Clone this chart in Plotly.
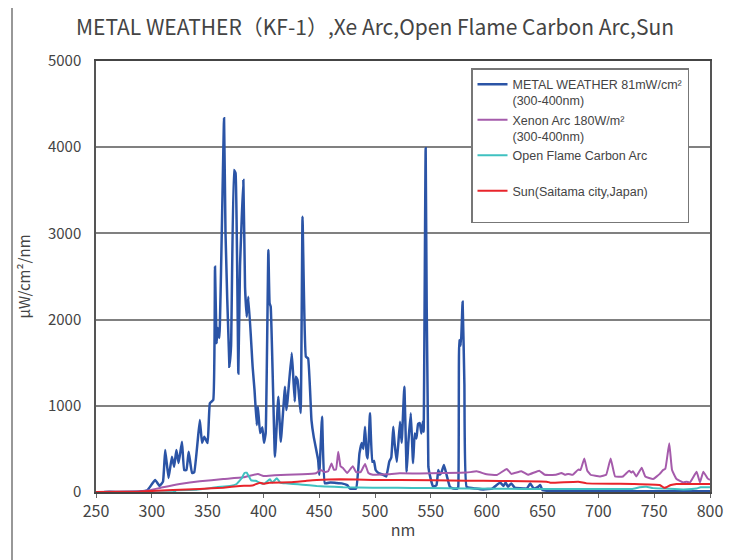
import plotly.graph_objects as go

# ---- data ----
mw_nm = [250, 253, 255, 258, 270, 290, 296, 300, 303, 307, 310, 312, 315, 318, 320, 322, 324, 327, 329, 331,
         333, 336, 338, 343, 345, 347, 350, 352, 355, 356.6, 358, 359, 360.5, 364.7, 366, 369.5, 371, 373.6, 375,
         377.5, 379, 382, 383.5, 385, 386.5, 390.3, 392, 394, 395, 397, 399, 400.5, 402, 404.4, 405.5, 406.5,
         410.3, 413.3, 415.5, 419.3, 420.5, 421.5, 425.3, 426.5, 428, 429, 430.5, 433.3, 435, 438, 440, 443, 445,
         449, 450, 452.5, 455, 460, 465, 470, 475, 477.5, 483, 486, 488, 489.5, 491, 492.5, 493.5, 495.4, 497.5,
         499, 500.5, 503, 507, 510, 512.7, 514.5, 516.3, 517.5, 519.5, 522.3, 523.8, 526.2, 528.3, 529.7, 532,
         534, 535.5, 537, 538.5, 540, 541.5, 542.9, 543.5, 545.3, 547.7, 550, 552, 555, 556.6, 558, 559.5, 561.7,
         564, 567, 570, 573.6, 574.5, 575.4, 576.8, 578.4, 580, 582, 590, 597, 605, 612, 615, 617, 619, 622, 625,
         633, 636, 639, 642, 646, 648, 650, 660, 700, 750, 800]
mw_val = [0, -20, -50, 0, 0, 5, 20, 90, 140, 70, 120, 487, 162, 410, 294, 487, 336, 583, 255, 255,
          468, 220, 230, 835, 568, 642, 568, 1030, 1067, 2614, 1728, 1902, 1786, 4335, 3004, 1453, 1700, 3735, 3700,
          1376, 2614, 3620, 2382, 2034, 2266, 1453, 1183, 777, 990, 684, 750, 570, 684, 2807, 2190, 2150,
          410, 1105, 583, 1221, 950, 1050, 1612, 1380, 1050, 1337, 1300, 916, 3194, 1569, 1550, 835, 642,
          371, 200, 874, 100, 110, 105, 100, 80, 40, 40, 448, 568, 500, 758, 430, 390, 913, 350,
          360, 255, 220, 200, 180, 352, 400, 758, 560, 350, 816, 570, 1221, 235, 560, 913,
          336, 680, 620, 790, 800, 680, 820, 700, 3987, 294, 140, 60, 80, 255, 200, 230, 313,
          200, 60, 40, 40, 60, 1763, 1700, 2208, 1250, 60, 40, 30, 40, 110, 70, 110, 60, 100, 50,
          40, 40, 100, 40, 60, 80, 20, 10, 10, 10, 10]

xe_nm = [250, 290, 298, 310, 325, 343, 364, 382, 395, 400, 410, 421, 435, 447, 451, 455, 458, 461, 463, 465,
         467, 469, 471, 475, 480, 483, 487, 491, 494, 498, 510, 522, 540, 560, 582, 591, 600, 609, 618, 622,
         631, 637, 647, 652, 662, 667, 670, 673, 677, 682, 684, 687.4, 690, 693, 701.5, 707, 711, 715, 722,
         727.6, 729.5, 731, 734, 738.8, 742, 749, 755, 758, 760, 763.5, 766, 770, 776, 779, 782, 788, 791,
         794, 798, 800]
xe_val = [0, 5, 20, 55, 93, 124, 150, 170, 209, 186, 195, 200, 205, 217, 255, 230, 240, 332, 260, 260,
          468, 300, 280, 220, 300, 230, 230, 325, 220, 200, 205, 217, 215, 220, 225, 240, 205, 197, 267, 210,
          240, 200, 247, 200, 200, 220, 200, 210, 200, 260, 255, 390, 250, 200, 180, 200, 390, 180, 180,
          247, 225, 240, 180, 282, 180, 150, 210, 255, 270, 565, 255, 150, 110, 120, 110, 235, 110,
          235, 155, 140]

cf_nm = [250, 320, 322, 340, 358, 370, 376, 380.5, 383, 385, 387, 389, 393, 397, 401, 405.8, 408, 412, 415,
         420, 426.8, 435, 447.7, 455, 471.5, 498, 520, 547, 582, 636, 701, 730, 737, 743, 749, 760, 776, 788,
         791.5, 800]
cf_val = [0, 0, 20, 25, 55, 70, 93, 159, 220, 224, 180, 135, 130, 105, 100, 147, 110, 159, 110,
          100, 93, 85, 70, 65, 55, 48, 50, 45, 40, 35, 35, 35, 55, 60, 45, 40, 30, 40,
          55, 55]

sun_nm = [250, 289, 319, 343, 364, 379, 390, 397, 400, 405, 424, 438.7, 447.7, 468.5, 498, 522, 582, 612,
          653.7, 657, 682, 689.5, 731, 755, 758.8, 761, 765, 770, 800]
sun_val = [0, 5, 23, 35, 50, 70, 75, 108, 95, 108, 112, 131, 140, 147, 140, 140, 131, 128,
           120, 108, 120, 100, 93, 81, 50, 55, 81, 93, 93]

names = ["METAL WEATHER 81mW/cm²<br>(300-400nm)",
         "Xenon Arc 180W/m²<br>(300-400nm)",
         "Open Flame Carbon Arc<br>\u00a0",
         "Sun(Saitama city,Japan)<br>\u00a0"]
colors = ["#2B54A6", "#A55BAB", "#3FC1C0", "#E8242B"]
widths = [2.5, 2, 2, 2]

x_ticks = [250, 300, 350, 400, 450, 500, 550, 600, 650, 700, 750, 800]
y_ticks = [0, 1000, 2000, 3000, 4000, 5000]

FONT = "Noto Sans CJK JP, Liberation Sans, sans-serif"
LEG_FONT = "Liberation Sans, Arial, sans-serif"

fig = go.Figure()
series = [(mw_nm, mw_val), (xe_nm, xe_val), (cf_nm, cf_val), (sun_nm, sun_val)]
for (xs, ys), nm_, c, w in zip(series, names, colors, widths):
    fig.add_trace(go.Scatter(x=xs, y=ys, mode="lines", name=nm_,
                             line=dict(color=c, width=w, shape="spline", smoothing=0.3)))

# the page body has an 8px margin, so the figure is offset by 8px
fig.update_layout(
    width=734, height=552,
    margin=dict(l=88, r=32, t=53, b=68),
    paper_bgcolor="white", plot_bgcolor="white",
    font=dict(family=FONT, color="#444444", size=15),
    title=dict(text="METAL WEATHER（KF-1）,Xe Arc,Open Flame Carbon Arc,Sun",
               x=(375 - 8) / 734, xanchor="center", y=1 - (28 - 8) / 552, yanchor="middle",
               font=dict(family=FONT, size=21, color="#444444")),
    showlegend=True,
    legend=dict(x=(471 - 96) / 614, xanchor="left", y=(492 - 68) / 431, yanchor="top",
                bgcolor="white", bordercolor="#777777", borderwidth=1.5,
                font=dict(family=LEG_FONT, size=12.5, color="#444444"),
                valign="top", itemwidth=30, tracegroupgap=0),
    xaxis=dict(range=[250, 800], tickvals=x_ticks, ticktext=[str(v) for v in x_ticks],
               showgrid=False, zeroline=False,
               showline=True, linecolor="#444444", linewidth=1.5, mirror=True,
               ticks="outside", ticklen=4, tickcolor="#666666",
               title=dict(text="nm", font=dict(size=16, color="#444444"), standoff=4),
               tickfont=dict(size=16, color="#444444")),
    yaxis=dict(range=[0, 5000], tickvals=y_ticks, ticktext=[str(v) for v in y_ticks],
               showgrid=True, gridcolor="#808080", gridwidth=1.5, zeroline=False,
               showline=True, linecolor="#555555", linewidth=1.5, mirror=True,
               ticks="", ticklabelstandoff=10,
               title=dict(text="μW/cm²/nm", font=dict(size=15, color="#444444"), standoff=14),
               tickfont=dict(size=15, color="#444444")),
    shapes=[dict(type="rect", xref="paper", yref="paper",
                 x0=(12 - 96) / 614, x1=(737 - 96) / 614,
                 y0=(492 - 600) / 431, y1=(492 - 4) / 431,
                 line=dict(color="#777777", width=1.5), fillcolor="rgba(0,0,0,0)", layer="below")],
)

fig.write_html("out.html")
